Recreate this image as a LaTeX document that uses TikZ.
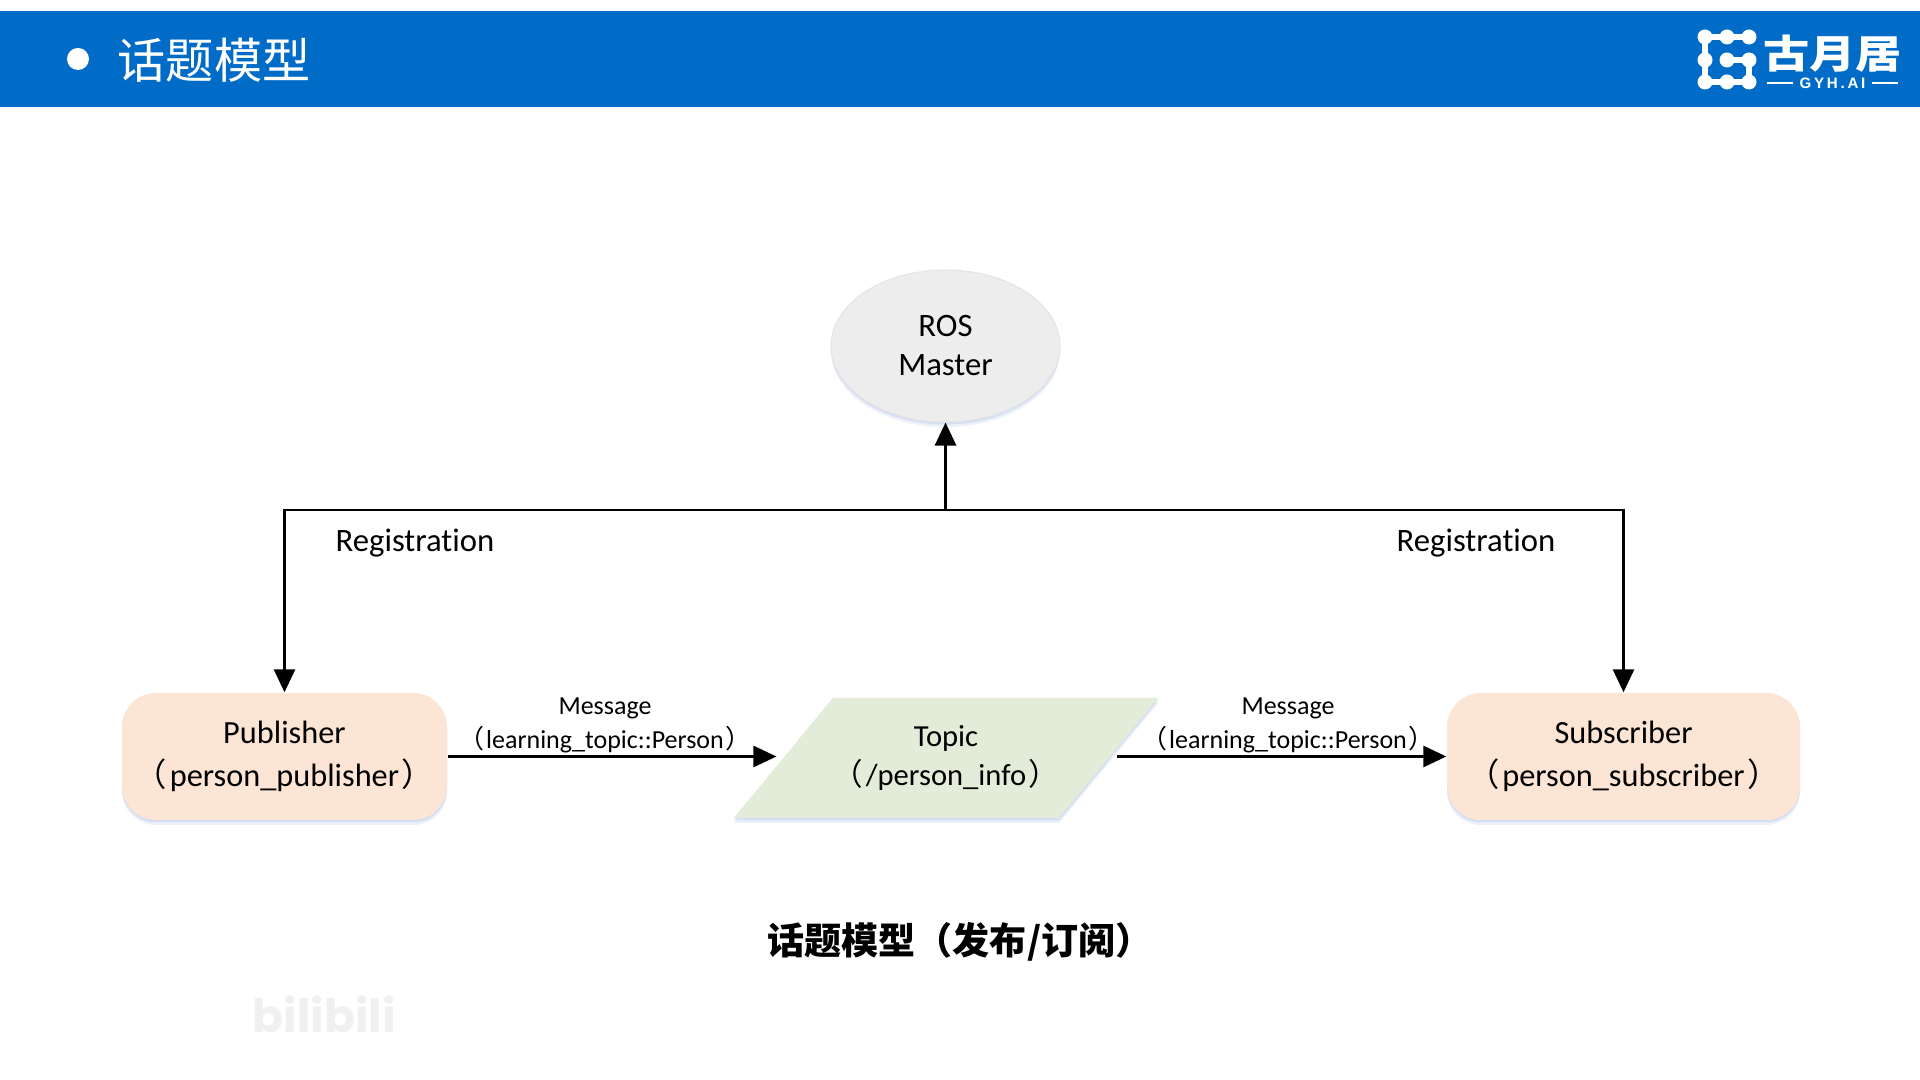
\documentclass[tikz,border=0pt]{standalone}
\usepackage{fontspec}
\setmainfont[Ligatures=NoCommon]{Carlito}
\newfontfamily\cjk{Noto Sans CJK SC}
\newfontfamily\logolatin[LetterSpace=18]{Liberation Sans}
\newfontfamily\wmfont{Poppins}
\usetikzlibrary{positioning, arrows.meta, shapes.geometric, shadows}
\definecolor{barblue}{RGB}{0, 108, 200}
\definecolor{pubfill}{RGB}{253, 229, 213}
\definecolor{topicfill}{RGB}{226, 236, 217}
\definecolor{masterfill}{RGB}{237, 237, 237}
\definecolor{softblue}{RGB}{150, 175, 225}
\newcommand{\lp}{{\cjk （}\kern0.08em}
\newcommand{\rp}{\kern0.08em{\cjk ）}}
\begin{document}
\begin{tikzpicture}[
        softshadow/.style={drop shadow={shadow xshift=0cm, shadow yshift=-0.05cm, fill=softblue, opacity=0.18},
            drop shadow={shadow xshift=0cm, shadow yshift=-0.025cm, fill=softblue, opacity=0.25}},
        pbox/.style={rounded corners=0.34cm, fill=pubfill, minimum height=1.27cm, softshadow,
            align=center, font=\fontsize{9.2}{12.2}\selectfont},
        link/.style={draw=black, line width=0.8pt, -{Triangle[length=0.23cm, width=0.21cm]}},
        lbl/.style={align=center, font=\fontsize{9.3}{12}\selectfont},
        msg/.style={align=center, font=\fontsize{7.4}{9.9}\selectfont},
        logodot/.style={circle, fill=white, inner sep=0pt, minimum size=0.15cm}
    ]
    \useasboundingbox (0, 0) rectangle (19.2, 10.8);
    \fill[white] (0, 0) rectangle (19.2, 10.8);
    \fill[barblue] (0, 9.73) rectangle (19.2, 10.69);
    \node[circle, fill=white, inner sep=0pt, minimum size=0.22cm] (bullet) at (0.78, 10.21) {};
    \node[anchor=west, inner sep=0pt, text=white, font=\fontsize{13.7}{16}\cjk] (title) at (1.17, 10.2) {话题模型};

    \node[logodot] (la) at (17.05, 10.43) {};
    \node[logodot] (lb) at (17.27, 10.43) {};
    \node[logodot] (lc) at (17.49, 10.43) {};
    \node[logodot] (ld) at (17.05, 10.2) {};
    \node[logodot] (le) at (17.27, 10.2) {};
    \node[logodot] (lf) at (17.49, 10.2) {};
    \node[logodot] (lg) at (17.05, 9.98) {};
    \node[logodot] (lh) at (17.27, 9.98) {};
    \node[logodot] (li) at (17.49, 9.98) {};
    \draw[white, line width=1.7pt] (lc.center) -- (lb.center) -- (la.center) -- (ld.center) -- (lg.center) -- (lh.center) -- (li.center) -- (lf.center) -- (le.center);
    \node[xscale=1.06, yscale=0.9, transform shape, inner sep=0pt, text=white, font=\fontsize{12.4}{14}\cjk\bfseries] (logotext) at (18.325, 10.265) {古月居};
    \node[inner sep=0pt, text=white, font=\fontsize{4.3}{5}\logolatin\bfseries] (logosub) at (18.325, 9.97) {GYH.AI};
    \draw[white, line width=0.5pt] (17.67, 9.97) -- (17.93, 9.97);
    \draw[white, line width=0.5pt] (18.72, 9.97) -- (18.98, 9.97);

    \node[ellipse, fill=masterfill, draw=gray!20, line width=0.3pt, minimum width=2.29cm, minimum height=1.52cm, inner sep=0pt,
        softshadow, align=center, font=\fontsize{9.3}{11.1}\selectfont] (master) at (9.455, 7.34)
        {ROS\\Master};
    \node[pbox, minimum width=3.25cm] (pub) at (2.845, 3.235)
        {Publisher\\\lp person\_publisher\rp};
    \node[pbox, minimum width=3.53cm] (sub) at (16.235, 3.235)
        {Subscriber\\\lp person\_subscriber\rp};
    \node[trapezium, trapezium left angle=33, trapezium right angle=147, trapezium stretches body=true,
        fill=topicfill, minimum width=4.2cm, minimum height=1.2cm, inner sep=0pt, softshadow,
        align=center, font=\fontsize{8.7}{10.9}\selectfont] (topic) at (9.46, 3.22)
        {Topic\\\lp /person\_info\rp};

    \coordinate (hub) at (9.455, 5.7);
    \draw[link] (hub) -- (master);
    \draw[link] (hub) -| (pub);
    \draw[link] (hub) -| (sub);
    \draw[link, shorten >=0.06cm] (pub) -- (pub -| topic.west);
    \draw[link, shorten <=0.07cm] (topic.east |- sub) -- (sub);

    \node[lbl] (regl) at (4.15, 5.365) {Registration};
    \node[lbl] (regr) at (14.76, 5.365) {Registration};
    \node[msg] (msgl) at (6.05, 3.545) {Message\\\lp learning\_topic::Person\rp};
    \node[msg] (msgr) at (12.88, 3.545) {Message\\\lp learning\_topic::Person\rp};

    \node[font=\fontsize{10.55}{12}\cjk\bfseries] (caption) at (9.6, 1.38) {话题模型（发布/订阅）};
    \node[anchor=west, inner sep=0pt, text=black!6, font=\fontsize{13}{16}\wmfont\bfseries] (mark) at (2.52, 0.66) {bilibili};
\end{tikzpicture}
\end{document}
